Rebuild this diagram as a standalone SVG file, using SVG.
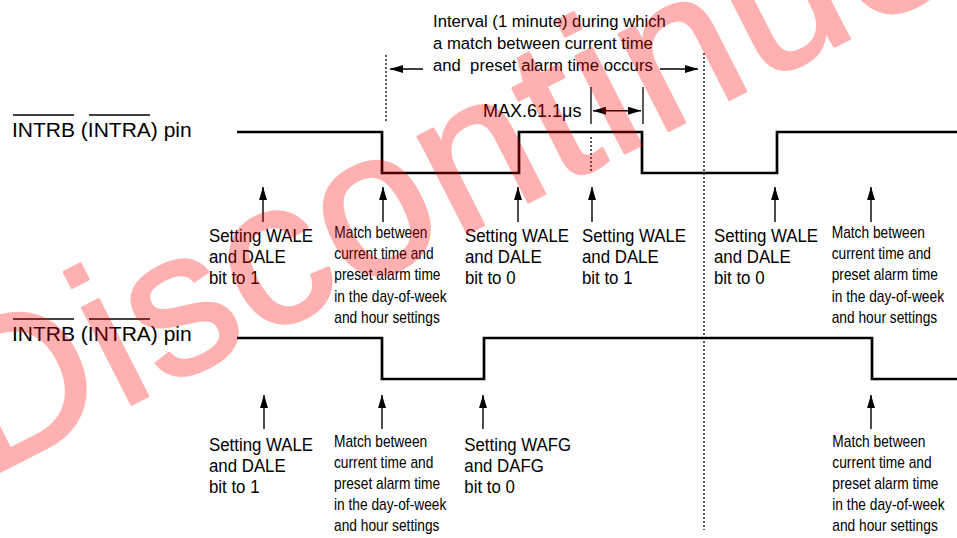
<svg xmlns="http://www.w3.org/2000/svg" width="957" height="538" viewBox="0 0 957 538">
<defs>
<marker id="ah" markerUnits="userSpaceOnUse" markerWidth="13" markerHeight="8" refX="13" refY="4" orient="auto-start-reverse" viewBox="0 0 13 8">
<path d="M0,0 L13,4 L0,8 z" fill="#000"/>
</marker>
<style>
text{font-family:"Liberation Sans",Arial,Helvetica,sans-serif;fill:#000}
.pin{font-size:21px}
.big{font-size:18.5px}
.small{font-size:16px}
.intv{font-size:16.7px}
.wave{fill:none;stroke:#000;stroke-width:2.7}
.ar{stroke:#000;stroke-width:1.4;fill:none;marker-end:url(#ah)}
.dot{stroke:#000;stroke-width:1.3;stroke-dasharray:2 2;fill:none}
.thin{stroke:#000;stroke-width:1.3;fill:none}
.wm{font-family:"Liberation Sans",Arial,sans-serif;font-size:205px;letter-spacing:3px;fill:#ff0000;stroke:#ff0000;stroke-width:3;stroke-linejoin:round}
</style>
</defs>
<rect width="957" height="538" fill="#fff"/>

<g id="pin-top">
<text class="pin" x="12" y="137">INTRB (INTRA) pin</text>
<line class="thin" x1="13" y1="115" x2="74" y2="115"/>
<line class="thin" x1="89" y1="115" x2="150" y2="115"/>
</g>
<g id="pin-bottom">
<text class="pin" x="12" y="341">INTRB (INTRA) pin</text>
<line class="thin" x1="13" y1="319" x2="74" y2="319"/>
<line class="thin" x1="89" y1="319" x2="150" y2="319"/>
</g>

<g id="wave-top"><path class="wave" d="M237,132 H382 V173 H519 V132 H642 V173 H777 V132 H957"/></g>
<g id="wave-bottom"><path class="wave" d="M237,338 H382 V379 H484 V338 H872 V379 H957"/></g>

<g id="interval">
<text class="intv" x="433" y="27">Interval (1 minute) during which</text>
<text class="intv" x="433" y="48.5">a match between current time</text>
<text class="intv" x="433" y="71" xml:space="preserve">and  preset alarm time occurs</text>
</g>
<g id="max">
<text class="intv" x="483" y="117" style="font-size:18px">MAX.61.1μs</text>
</g>

<g id="connectors">
<line class="dot" x1="386" y1="55" x2="386" y2="122"/>
<line class="dot" x1="704" y1="53" x2="704" y2="530"/>
<line class="dot" x1="591" y1="137" x2="591" y2="172"/>
<line class="ar" x1="423" y1="69" x2="390" y2="69"/>
<line class="ar" x1="660" y1="69" x2="698" y2="69"/>
<line class="thin" x1="591" y1="87" x2="591" y2="124"/>
<line class="thin" x1="643" y1="87" x2="643" y2="124"/>
<line class="ar" x1="593" y1="110.7" x2="641" y2="110.7" style="marker-start:url(#ah)"/>
<line class="ar" x1="263" y1="222" x2="263" y2="187"/>
<line class="ar" x1="383" y1="222" x2="383" y2="187"/>
<line class="ar" x1="518" y1="222" x2="518" y2="187"/>
<line class="ar" x1="592" y1="222" x2="592" y2="187"/>
<line class="ar" x1="775" y1="222" x2="775" y2="187"/>
<line class="ar" x1="871" y1="222" x2="871" y2="187"/>
<line class="ar" x1="264" y1="429" x2="264" y2="395"/>
<line class="ar" x1="382" y1="429" x2="382" y2="395"/>
<line class="ar" x1="483" y1="429" x2="483" y2="395"/>
<line class="ar" x1="871" y1="429" x2="871" y2="395"/>
</g>

<g id="t1"><text class="big" transform="translate(209,241.7) scale(0.91,1)"><tspan x="0" y="0">Setting WALE</tspan><tspan x="0" y="21.3">and DALE</tspan><tspan x="0" y="42.6">bit to 1</tspan></text></g>
<g id="t2"><text class="small" transform="translate(334.3,238.3) scale(0.86,1)"><tspan x="0" y="0">Match between</tspan><tspan x="0" y="21.1">current time and</tspan><tspan x="0" y="42.2">preset alarm time</tspan><tspan x="0" y="63.3">in the day-of-week</tspan><tspan x="0" y="84.4">and hour settings</tspan></text></g>
<g id="t3"><text class="big" transform="translate(465,241.7) scale(0.91,1)"><tspan x="0" y="0">Setting WALE</tspan><tspan x="0" y="21.3">and DALE</tspan><tspan x="0" y="42.6">bit to 0</tspan></text></g>
<g id="t4"><text class="big" transform="translate(582,241.7) scale(0.91,1)"><tspan x="0" y="0">Setting WALE</tspan><tspan x="0" y="21.3">and DALE</tspan><tspan x="0" y="42.6">bit to 1</tspan></text></g>
<g id="t5"><text class="big" transform="translate(714,241.7) scale(0.91,1)"><tspan x="0" y="0">Setting WALE</tspan><tspan x="0" y="21.3">and DALE</tspan><tspan x="0" y="42.6">bit to 0</tspan></text></g>
<g id="t6"><text class="small" transform="translate(831.7,238.3) scale(0.86,1)"><tspan x="0" y="0">Match between</tspan><tspan x="0" y="21.1">current time and</tspan><tspan x="0" y="42.2">preset alarm time</tspan><tspan x="0" y="63.3">in the day-of-week</tspan><tspan x="0" y="84.4">and hour settings</tspan></text></g>

<g id="b1"><text class="big" transform="translate(209,450.7) scale(0.91,1)"><tspan x="0" y="0">Setting WALE</tspan><tspan x="0" y="21.3">and DALE</tspan><tspan x="0" y="42.6">bit to 1</tspan></text></g>
<g id="b2"><text class="small" transform="translate(334,446.7) scale(0.86,1)"><tspan x="0" y="0">Match between</tspan><tspan x="0" y="21.1">current time and</tspan><tspan x="0" y="42.2">preset alarm time</tspan><tspan x="0" y="63.3">in the day-of-week</tspan><tspan x="0" y="84.4">and hour settings</tspan></text></g>
<g id="b3"><text class="big" transform="translate(464.3,450.7) scale(0.91,1)"><tspan x="0" y="0">Setting WAFG</tspan><tspan x="0" y="21.3">and DAFG</tspan><tspan x="0" y="42.6">bit to 0</tspan></text></g>
<g id="b4"><text class="small" transform="translate(832.3,446.7) scale(0.86,1)"><tspan x="0" y="0">Match between</tspan><tspan x="0" y="21.1">current time and</tspan><tspan x="0" y="42.2">preset alarm time</tspan><tspan x="0" y="63.3">in the day-of-week</tspan><tspan x="0" y="84.4">and hour settings</tspan></text></g>

<g id="watermark" opacity="0.3">
<text class="wm" transform="translate(-15,479) rotate(-27)">Discontinued</text>
</g>
</svg>
